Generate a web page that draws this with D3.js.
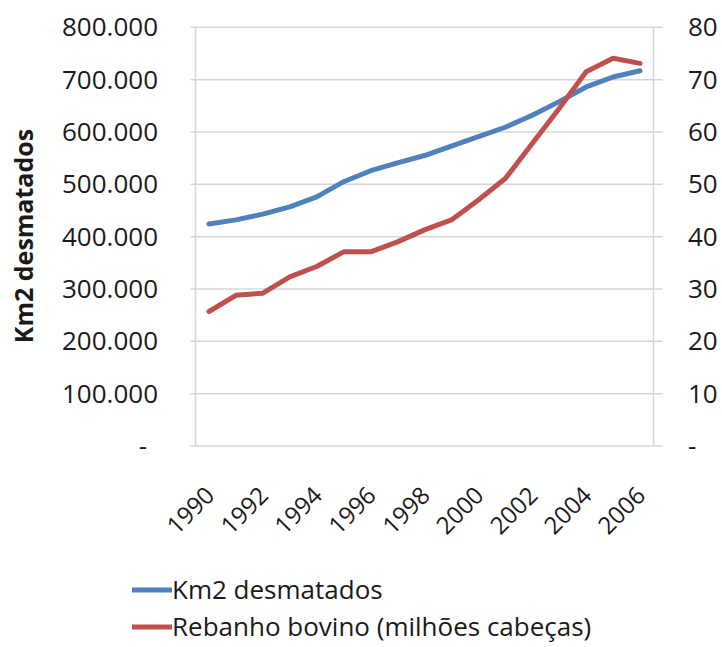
<!DOCTYPE html>
<html>
<head>
<meta charset="utf-8">
<script src="https://cdn.jsdelivr.net/npm/d3@7"></script>
<style>
  body { margin: 0; background: #fff; }
  text { font-family: "Open Sans", sans-serif; fill: #1a1a1a; }
</style>
</head>
<body>
<svg id="chart" width="722" height="647"></svg>
<script>
// ---- data ----
const years = [1990,1991,1992,1993,1994,1995,1996,1997,1998,1999,2000,2001,2002,2003,2004,2005,2006];
const desmatado = [424000,432000,443000,457000,476000,505000,526000,541000,555000,573000,591000,609000,632000,658000,686000,705000,717000];
const rebanho = [25.7,28.8,29.2,32.3,34.3,37.1,37.1,39.0,41.3,43.2,47.0,51.1,57.8,64.5,71.5,74.1,73.1];
const leftTicks = [0,100000,200000,300000,400000,500000,600000,700000,800000];
const rightTicks = [0,10,20,30,40,50,60,70,80];
const xLabels = [1990,1992,1994,1996,1998,2000,2002,2004,2006];
const seriesNames = ["Km2 desmatados", "Rebanho bovino (milhões cabeças)"];
const yTitle = "Km2 desmatados";

// ---- layout ----
const W = 722, H = 647;
const plot = {left: 195.5, right: 653.5, top: 27.3, bottom: 446};
const colors = ["#4F81BD", "#C0504D"];
const gridColor = "#d6d6d6";

const svg = d3.select("#chart");
svg.append("rect").attr("width", W).attr("height", H).attr("fill", "#fff");

const x = d3.scaleBand().domain(years).range([plot.left, plot.right]);
const cx = d => x(d) + x.bandwidth() / 2;
const yL = d3.scaleLinear().domain([0, 800000]).range([plot.bottom, plot.top]);
const yR = d3.scaleLinear().domain([0, 80]).range([plot.bottom, plot.top]);

const loc = d3.formatLocale({decimal: ",", thousands: ".", grouping: [3], currency: ["", ""]});
const fmt = loc.format(",d");

// gridlines (with tick stubs on both sides)
svg.append("g").selectAll("line").data(leftTicks).join("line")
  .attr("x1", plot.left - 5).attr("x2", plot.right + 9)
  .attr("y1", d => yL(d)).attr("y2", d => yL(d))
  .attr("stroke", gridColor).attr("stroke-width", 1.5);

// plot borders
svg.append("line").attr("x1", plot.left).attr("x2", plot.left)
  .attr("y1", plot.top).attr("y2", plot.bottom).attr("stroke", gridColor).attr("stroke-width", 1.5);
svg.append("line").attr("x1", plot.right).attr("x2", plot.right)
  .attr("y1", plot.top).attr("y2", plot.bottom).attr("stroke", gridColor).attr("stroke-width", 1.5);

// left axis labels
svg.append("g").selectAll("text").data(leftTicks).join("text")
  .attr("x", d => d === 0 ? 147 : 158)
  .attr("y", d => yL(d)).attr("dy", "0.35em")
  .attr("text-anchor", "end").attr("font-size", 26)
  .text(d => d === 0 ? "-" : fmt(d));

// right axis labels
svg.append("g").selectAll("text").data(rightTicks).join("text")
  .attr("x", 688)
  .attr("y", d => yR(d)).attr("dy", "0.35em")
  .attr("text-anchor", "start").attr("font-size", 26)
  .text(d => d === 0 ? "-" : d);

// y title
svg.append("text")
  .attr("transform", "translate(24,236) rotate(-90)")
  .attr("dy", "0.35em")
  .attr("text-anchor", "middle").attr("font-size", 25).attr("font-weight", "bold")
  .text(yTitle);

// x labels
svg.append("g").selectAll("text").data(xLabels).join("text")
  .attr("transform", d => `translate(${cx(d) + 1},491) rotate(-45)`)
  .attr("dy", "0.35em")
  .attr("text-anchor", "end").attr("font-size", 24)
  .text(d => d);

// lines
const lineL = d3.line().x((d, i) => cx(years[i])).y(d => yL(d));
const lineR = d3.line().x((d, i) => cx(years[i])).y(d => yR(d));
svg.append("path").datum(desmatado).attr("d", lineL)
  .attr("fill", "none").attr("stroke", colors[0]).attr("stroke-width", 5)
  .attr("stroke-linejoin", "round").attr("stroke-linecap", "round");
svg.append("path").datum(rebanho).attr("d", lineR)
  .attr("fill", "none").attr("stroke", colors[1]).attr("stroke-width", 5)
  .attr("stroke-linejoin", "round").attr("stroke-linecap", "round");

// legend
const lg = svg.append("g").selectAll("g").data(seriesNames).join("g")
  .attr("transform", (d, i) => `translate(132,${590 + i * 37})`);
lg.append("line").attr("x1", 0).attr("x2", 40).attr("y1", 0).attr("y2", 0)
  .attr("stroke", (d, i) => colors[i]).attr("stroke-width", 5);
lg.append("text").attr("x", 40).attr("dy", "0.35em").attr("font-size", 26)
  .text(d => d);
</script>
</body>
</html>
